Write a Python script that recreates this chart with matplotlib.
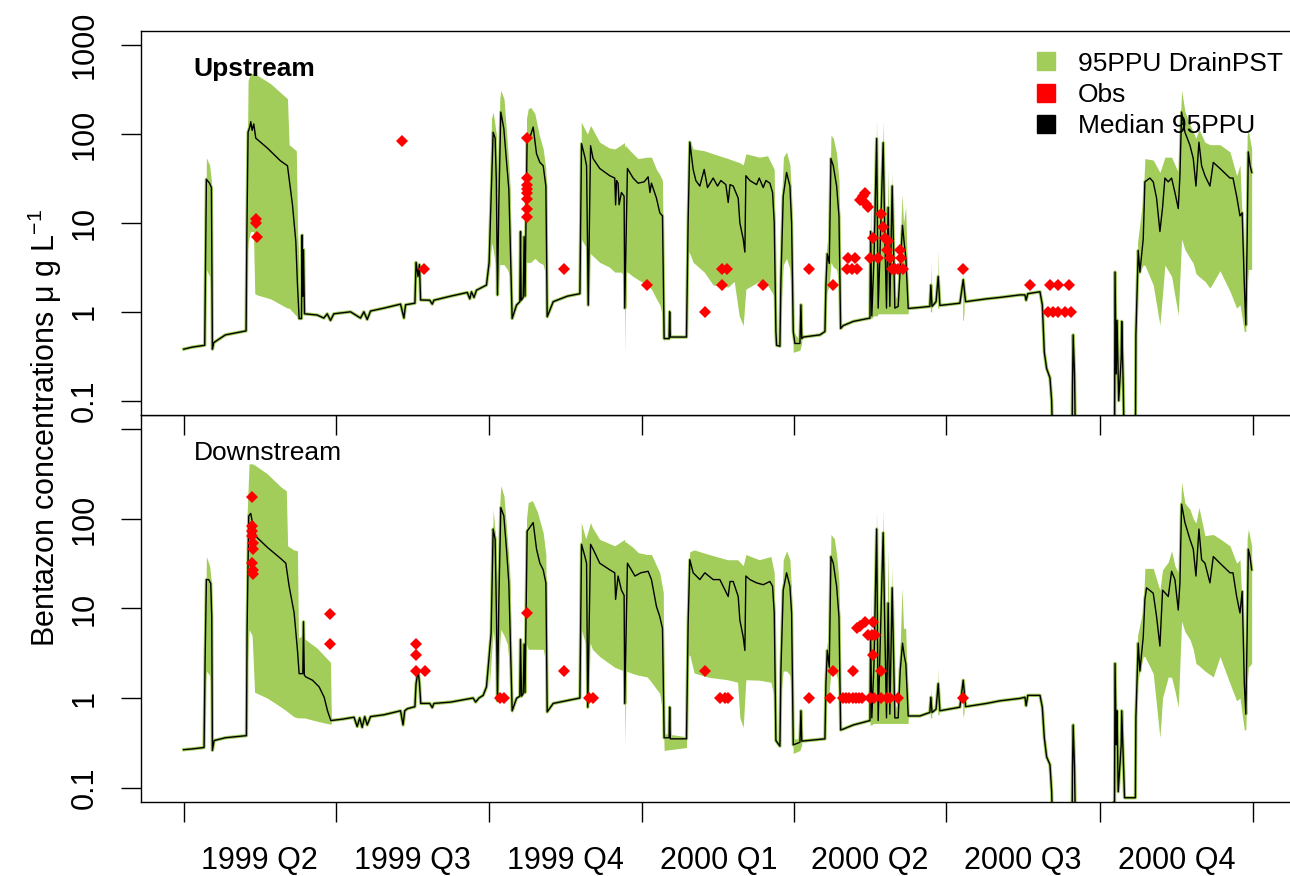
import numpy as np
import matplotlib
matplotlib.use('Agg')
import matplotlib.pyplot as plt
from matplotlib.lines import Line2D
from matplotlib.ticker import NullLocator, FixedLocator

plt.rcParams['font.family'] = ['Liberation Sans', 'DejaVu Sans']
plt.rcParams['mathtext.fontset'] = 'custom'
plt.rcParams['mathtext.rm'] = 'Liberation Sans'
plt.rcParams['mathtext.it'] = 'Liberation Sans:italic'

nan = float('nan')

# days since 1999-04-01
quarter_edges = [0, 91, 183, 275, 366, 457, 549, 641]
quarter_labels = ['1999 Q2', '1999 Q3', '1999 Q4', '2000 Q1', '2000 Q2', '2000 Q3', '2000 Q4']

# ---- Upstream ----
up_median = [
    (0, 0.38), (5, 0.40), (12.6, 0.42), (13.0, 2.5), (13.6, 31), (15.5, 28), (16.6, 25), (17.2, 0.38), (18, 0.45),
    (25, 0.55), (37.4, 0.61), (37.9, 8.6), (38.6, 105), (39.6, 120), (40.2, 138), (41, 110), (42, 130), (43.2, 90),
    (50, 70), (58, 50), (62.2, 44), (65.2, 16), (67.2, 6.2), (68.2, 2.0), (69.2, 0.84), (70.6, 0.84), (71.0, 7.3),
    (71.4, 1.5), (71.8, 5), (72.4, 0.95), (80, 0.92), (84, 0.85), (86, 0.95), (88, 0.80), (90, 0.95), (100, 1.0),
    (106, 0.85), (108, 1.0), (110, 0.82), (112, 1.02), (120, 1.1), (130, 1.22), (132, 0.85), (133, 1.2),
    (138.6, 1.25), (139.3, 3.6), (140.5, 2.5), (141.3, 3.4), (142, 1.36), (147.5, 1.35), (149, 1.22), (150, 1.35),
    (160, 1.5), (170, 1.65), (171.5, 1.4), (172.5, 1.68), (174, 1.45), (175.5, 1.75), (181.5, 2.0),
    (183.1, 3.6), (184.3, 20), (185.5, 105), (186.7, 90), (187.4, 30), (188.1, 1.55), (188.9, 16), (190.1, 177),
    (191.9, 115), (193.5, 50), (194.9, 24), (196.9, 0.84), (199.5, 1.19), (201.5, 1.3), (201.9, 8), (202.3, 1.35),
    (203.5, 1.45), (204.1, 7), (204.6, 1.5), (205.9, 97), (207, 85), (209.5, 120), (211.5, 60), (213.5, 48),
    (215.5, 44), (217.1, 26), (217.9, 0.88), (221.5, 1.3), (230, 1.5), (237.5, 1.6),
    (238.5, 78), (240.5, 55), (241.5, 44), (242.5, 1.19), (243.9, 74), (245.4, 53), (249.4, 41), (255.4, 34),
    (258.4, 32), (258.9, 16), (259.5, 30), (260.4, 28), (261, 16), (262.4, 22), (264, 20), (264.4, 1.1), (266, 41),
    (269.4, 32), (272.4, 28), (276, 29), (278.4, 33), (279.5, 22), (280.4, 28), (283.4, 19), (285.4, 13), (287, 12),
    (288, 0.5), (291, 0.5), (291.3, 1.0), (291.7, 0.52), (301.4, 0.52),
    (302.4, 10.7), (303.4, 81), (305.4, 40), (307, 30), (309.4, 26), (312, 40), (314, 25), (317.4, 32), (320, 26),
    (322, 30), (325, 27), (326.4, 17), (327.5, 27), (329.4, 26), (332.4, 19), (333.4, 10), (335.4, 6.6),
    (336.4, 4.7), (337, 34), (339.4, 30), (343.4, 27), (345, 32), (347.4, 25), (349, 30), (351.4, 28), (353, 22),
    (354, 10), (355, 0.6), (355.4, 0.42), (357.4, 0.41),
    (358, 2.2), (359.4, 20), (361.4, 37), (363.4, 26), (364.4, 10), (365.4, 0.6), (366.4, 0.44), (369.4, 0.44),
    (370, 1.2), (370.5, 0.5), (371.4, 0.52), (381.4, 0.55), (384.4, 0.6),
    (385, 2.0), (385.8, 4.5), (387, 3.5), (388, 53), (389.4, 44), (391.4, 26), (392.8, 12), (393.8, 0.65),
    (395.4, 0.7), (401.4, 0.78), (411.4, 0.85),
    (411.8, 8), (412.5, 0.9), (413.8, 4), (415.4, 89), (416.3, 1.1), (417.3, 4), (419.3, 80), (420.3, 7),
    (421.3, 1.1), (422.3, 15), (423.3, 1.15), (424.7, 26), (426.3, 1.1), (428.3, 1.15), (429.5, 3), (430.9, 9.4),
    (431.9, 6), (432.9, 4), (434.3, 1.09),
    (441.3, 1.12), (447.3, 1.15), (447.9, 2.0), (448.6, 1.15), (451, 1.3), (452.3, 2.5), (453.3, 1.18),
    (465.3, 1.25), (467.3, 2.3), (468.7, 1.3), (481.3, 1.4), (489, 1.45), (501.3, 1.55), (504.3, 1.55),
    (505, 1.35), (506, 1.6), (513.3, 1.68), (514.7, 1.2), (515.9, 0.35), (517.3, 0.23), (519.3, 0.18),
    (520.3, 0.1), (521, 0.03),
    (532.5, 0.03), (532.8, 0.15), (533.2, 0.55), (534, 0.2), (534.6, 0.03), (558, 0.03), (558.3, 2.8), (559, 0.2),
    (559.5, 0.8), (560.5, 0.1), (562, 0.3), (562.3, 0.78), (563.2, 0.15), (563.8, 0.03), (570.5, 0.03),
    (570.8, 0.55), (572.2, 4.9), (573.2, 2.8), (575.2, 6.6),
    (576.2, 29), (579.2, 32), (581.2, 29), (583.2, 19), (585.2, 8), (586.8, 15), (588.2, 32), (590.2, 29),
    (592.2, 32), (594.2, 22), (596.2, 14.5), (597.2, 34), (598.2, 177), (600.2, 105), (603.2, 75), (605.2, 53),
    (606.8, 26), (608.6, 81), (610.2, 44), (612.2, 34), (615.2, 26), (617.2, 48), (621.2, 41), (627.2, 32),
    (629, 32), (631.2, 20), (633.2, 12), (634.5, 13), (635.8, 2.0), (636.7, 0.71), (637.5, 6.6), (638.2, 63),
    (639.2, 45), (640.2, 37)]

# (day, lower 95PPU, upper 95PPU); nan rows split the band into pieces
up_band = [
    (13.0, 1.5, 3.6), (13.6, 3, 54), (15.5, 2.5, 45), (16.6, 1.7, 30), (17.2, 0.36, 0.5), (nan, nan, nan),
    (37.9, 4, 20), (38.6, 6, 400), (40, 8, 480), (41.8, 8, 480), (42.6, 1.6, 470), (44, 1.55, 460), (52, 1.4, 370),
    (62.2, 1.1, 250), (63.2, 1.1, 76), (67.5, 0.9, 65), (68.3, 0.88, 8), (69.2, 0.82, 3), (nan, nan, nan),
    (183.1, 2.5, 4), (184.5, 6, 150), (185.5, 5, 177), (187.4, 3, 100), (188.3, 1.5, 20), (189.5, 3.4, 250),
    (190.1, 3.4, 310), (192, 3.4, 250), (194, 3, 80), (195.5, 2.5, 30), (196.9, 0.8, 1), (nan, nan, nan),
    (205.5, 3.6, 150), (206.5, 3.6, 192), (208, 3.6, 200), (210.5, 4, 170), (213, 3.6, 100), (215.5, 3.4, 68),
    (217.1, 2.5, 40), (217.9, 0.85, 1), (nan, nan, nan),
    (238.3, 6.6, 136), (242, 5, 100), (243.9, 4.5, 125), (249.4, 3.6, 81), (255, 3.2, 70), (258.4, 2.8, 68),
    (262, 2.8, 75), (264.2, 2.6, 80), (264.6, 0.35, 70), (265, 2.8, 75), (266, 2.8, 70), (269.4, 2.5, 60),
    (272.4, 2.3, 53), (277.8, 2.0, 55), (280.4, 1.8, 55), (283.4, 1.4, 40), (285.4, 1.2, 35), (287, 0.9, 30),
    (288, 0.45, 1), (nan, nan, nan),
    (302.2, 5, 40), (303.4, 4.5, 85), (305.4, 3.6, 68), (312, 2.8, 65), (317.4, 2.0, 60), (326.4, 1.9, 53),
    (330, 2.2, 50), (333, 0.9, 48), (335.4, 0.7, 45), (337, 1.8, 60), (345, 2.2, 55), (350, 2.0, 57),
    (354, 1.5, 40), (355, 0.38, 0.6), (nan, nan, nan),
    (357.8, 1.0, 10), (359.5, 3.4, 55), (361.4, 4, 63), (363.4, 3, 45), (364.4, 1.5, 20), (365.4, 0.35, 0.6),
    (369.4, 0.37, 0.47), (370.5, 0.45, 0.55), (nan, nan, nan),
    (384.8, 1.5, 4), (387, 2, 10), (388, 3.6, 97), (389.4, 3.2, 90), (391.4, 3, 60), (392.8, 2, 30),
    (393.8, 0.6, 0.7), (nan, nan, nan),
    (411.4, 0.85, 0.9), (411.6, 0.85, 8), (411.8, 0.85, 30), (412.1, 0.85, 2), (412.6, 0.85, 1),
    (413.6, 0.9, 1.2), (413.9, 0.9, 6), (414.5, 0.9, 2), (415.0, 0.9, 20), (415.3, 0.9, 148), (415.7, 0.9, 60),
    (416.3, 0.95, 2), (417.2, 0.95, 6), (418.0, 0.95, 10), (419.2, 0.95, 140), (419.7, 0.95, 40),
    (420.4, 0.95, 8), (421.2, 0.95, 1.5), (422.2, 0.95, 40), (422.7, 0.95, 10), (423.3, 0.95, 2),
    (424.4, 0.95, 37), (425.0, 0.95, 10), (426.3, 0.95, 1.5), (428.3, 0.95, 1.4), (430.6, 0.95, 21),
    (431.5, 0.95, 10), (432.8, 0.95, 15), (433.5, 0.95, 5), (434.3, 0.95, 1.2), (nan, nan, nan),
    (447.6, 1.0, 1.2), (447.9, 1.0, 3.5), (448.4, 1.0, 1.2), (nan, nan, nan),
    (452.0, 1.1, 1.3), (452.3, 1.1, 5), (452.8, 1.1, 1.3), (nan, nan, nan),
    (467.0, 0.8, 1.3), (467.3, 0.8, 3.2), (467.8, 1.0, 1.3), (nan, nan, nan),
    (571.8, 2.5, 6), (575.2, 3.35, 20), (576.2, 3.35, 53), (581.2, 2.0, 51), (585.2, 0.71, 37), (588.2, 3.35, 55),
    (590.2, 2.9, 55), (592.2, 2.5, 55), (596.2, 0.92, 37), (598.2, 6.6, 310), (600.2, 5, 180), (602.6, 4.2, 136),
    (605.2, 3.5, 105), (606.8, 2.7, 90), (608.6, 2.5, 113), (612.2, 2.2, 81), (615.2, 1.85, 76), (621.2, 2.9, 76),
    (627.2, 1.7, 63), (631.2, 1.1, 34), (633.2, 1.2, 45), (635.8, 0.6, 3), (636.7, 0.6, 5), (637.5, 2, 97),
    (638.2, 3, 110), (640.2, 3.0, 68)]

up_obs = [
    (43.6, 10.0), (43.6, 11.0), (44.2, 7.0), (130.9, 83), (144.3, 3.0),
    (205.9, 90), (205.9, 32), (205.9, 27), (205.9, 24), (205.9, 22), (205.9, 18.6), (205.9, 14.5), (205.9, 11.7),
    (228, 3.0), (277.8, 2.0), (312.4, 1.0), (322.6, 2.0), (322.6, 3.0), (325.8, 3.0), (347, 2.0), (375, 3.0),
    (389.4, 2.0), (397.4, 3.0), (400.4, 3.0), (403.4, 3.0), (398.4, 4.0), (402.4, 4.0),
    (405.4, 18), (407.4, 20), (408.4, 22), (409.2, 16.5), (410.4, 15),
    (411.4, 4.0), (413.4, 6.8), (416.3, 4.0), (418.3, 12.7), (419.3, 8.9), (420.3, 6.8), (421.3, 4.9),
    (422.3, 6.2), (423.3, 4.0), (424.3, 3.0), (426.3, 3.0), (428.3, 3.0), (429.3, 4.9), (429.8, 4.0),
    (431.3, 3.0), (467.3, 3.0),
    (507.3, 2.0), (519.3, 2.0), (524.3, 2.0), (530.9, 2.0),
    (518.3, 1.0), (521.3, 1.0), (524.3, 1.0), (528.3, 1.0), (531.7, 1.0)]

# ---- Downstream ----
dn_median = [
    (0, 0.265), (5, 0.27), (12.2, 0.28), (12.8, 2.4), (13.6, 21), (15, 21), (16.2, 19), (16.8, 8), (17.2, 0.26),
    (18.2, 0.335), (25, 0.36), (37.6, 0.38), (38.0, 5.8), (39.0, 108), (40.2, 115), (41.0, 95), (42, 90),
    (43.2, 64), (50.2, 48), (58.2, 36), (61.2, 32), (63.2, 17.7), (66.2, 8.9), (68.2, 3.4), (69.2, 1.87),
    (71.4, 1.87), (71.8, 7.1), (72.3, 1.8), (73.2, 1.72), (77.2, 1.58), (81.2, 1.33), (84.2, 1.02), (86.2, 0.72),
    (88.2, 0.56), (95, 0.58), (102.1, 0.61), (104, 0.48), (105.5, 0.6), (107, 0.47), (108.5, 0.62), (110, 0.5),
    (112, 0.62), (120, 0.65), (130, 0.72), (131.5, 0.5), (132.5, 0.72), (134.1, 0.76), (138.6, 0.8),
    (139.3, 1.45), (140.5, 2.0), (141.3, 1.5), (142.1, 0.87), (147.5, 0.87), (149, 0.78), (150, 0.87),
    (160, 0.9), (173.5, 1.0), (175, 0.9), (177, 1.0), (179.5, 1.07), (181.5, 1.33),
    (183.1, 2.9), (184.3, 5.3), (185.5, 77), (186.7, 59), (187.5, 8), (188.1, 0.93), (188.9, 11.5), (190.1, 134),
    (191.9, 108), (193.5, 46), (194.9, 19.3), (196.9, 0.72), (199.5, 0.99), (201.5, 1.05), (201.9, 4.5),
    (202.5, 1.05), (203.5, 1.12), (204.1, 4.0), (204.6, 1.15), (205.9, 73), (209.5, 91), (211.5, 46),
    (213.5, 32), (215.5, 27), (217.1, 19.3), (217.9, 0.70), (221.5, 0.87), (237.5, 1.0),
    (238.5, 52), (240.5, 38), (241.5, 32), (242.2, 0.79), (243.9, 52), (245.4, 46), (249.4, 32), (255.4, 27),
    (258.4, 25), (258.9, 12.6), (260.4, 23), (262.4, 16), (264.0, 14), (264.4, 0.87), (266, 32), (270.5, 23),
    (274, 25), (278.4, 26), (280.4, 21), (283.4, 10.5), (285.4, 8.1), (287, 6), (288, 0.36), (291, 0.36),
    (291.3, 0.79), (291.7, 0.35), (301.4, 0.35),
    (302.4, 6.9), (303.4, 35), (305.4, 25), (309.4, 21), (312.4, 25), (317.4, 21), (321.4, 21), (326.4, 13.6),
    (327.5, 20), (329.4, 20), (332.4, 13.6), (333.4, 7.4), (335.4, 4.8), (336.4, 3.4), (337, 23), (339.4, 21),
    (343.4, 19.3), (347.4, 18.4), (351.4, 20), (353, 17.7), (354, 8.9), (355, 0.335), (357.4, 0.29),
    (358, 2.0), (359.4, 16), (361.4, 25), (363.4, 17.7), (364.4, 8.9), (365.4, 0.30), (369.4, 0.32), (370, 0.72),
    (370.5, 0.33), (384.4, 0.35),
    (385, 1.45), (385.8, 3.4), (387, 2.2), (388, 38), (389.4, 32), (391.4, 17.7), (392.8, 8.1), (393.8, 0.44),
    (395.4, 0.45), (401.4, 0.5), (411.4, 0.56),
    (411.8, 4.8), (412.5, 0.6), (413.8, 2.4), (415.4, 77), (416.3, 0.56), (417.3, 2.9), (419.3, 70), (420.3, 5.8),
    (421.3, 0.6), (422.3, 11.5), (423.3, 0.66), (424.7, 17), (426.3, 0.6), (428.3, 0.6), (429.5, 2), (430.9, 4.1),
    (431.9, 3.0), (432.9, 2.4), (434.3, 0.63), (441.3, 0.63), (447.3, 0.69), (447.9, 1.02), (448.6, 0.69),
    (451, 0.75), (452.3, 1.45), (453.3, 0.72), (465.3, 0.79), (467.3, 1.58), (468.7, 0.8), (481.3, 0.87),
    (489.3, 0.93), (501.3, 0.99), (504.3, 1.02), (505, 0.82), (506, 1.07), (513.3, 1.07), (514.7, 0.79),
    (515.9, 0.36), (517.3, 0.22), (519.3, 0.18), (520.3, 0.09), (521, 0.03),
    (532.5, 0.03), (532.8, 0.167), (533.2, 0.5), (534, 0.17), (534.6, 0.03), (553, 0.06), (556, 0.065),
    (558, 0.07), (558.3, 2.43), (559, 0.3), (559.5, 0.72), (560.2, 0.09), (562, 0.3), (562.3, 0.72),
    (563.2, 0.23), (564, 0.077), (570.5, 0.077), (570.8, 0.61), (572.2, 4.1), (573.2, 2.0), (575.2, 4.8),
    (576.2, 12.6), (577.2, 17), (581.2, 14.8), (583.2, 8.1), (585.2, 3.8), (586.8, 16), (590.2, 13.6),
    (592.2, 26), (594.2, 21), (596.2, 9.6), (597.2, 19.3), (598.2, 146), (600.2, 91), (603.2, 59), (605.2, 46),
    (606.8, 23), (608.6, 77), (610.2, 35), (612.2, 32), (615.2, 19.3), (617.2, 38), (621.2, 32), (627.2, 25),
    (629, 25), (631.2, 13.6), (633.2, 8.9), (634.5, 15.5), (635.8, 1.45), (636.7, 0.66), (637.5, 5.3),
    (638.2, 46), (639.2, 38), (640.2, 27)]

dn_band = [
    (12.8, 1.3, 2.5), (13.6, 2, 38), (15.5, 1.8, 30), (16.6, 1.3, 20), (17.2, 0.25, 0.3), (nan, nan, nan),
    (37.9, 2, 100), (39.2, 5.8, 412), (41, 5, 412), (42.5, 1.16, 400), (50, 1.0, 320), (58, 0.8, 230),
    (61.5, 0.72, 206), (62.3, 0.7, 50), (66, 0.62, 45), (68.2, 0.6, 44), (68.8, 0.6, 4.7), (71.5, 0.6, 5),
    (71.8, 0.6, 7.5), (72.3, 0.6, 4.6), (80, 0.55, 3.6), (88, 0.51, 2.5), (88.5, 0.52, 0.6), (nan, nan, nan),
    (183.1, 1.3, 3), (184.5, 3, 10), (185.5, 5.8, 128), (187, 3, 60), (188.2, 0.9, 10), (189.5, 4, 150),
    (190.1, 5.8, 235), (192, 5, 180), (194, 4, 60), (195.5, 2, 25), (196.9, 0.65, 0.8), (nan, nan, nan),
    (205.5, 4, 100), (206.5, 3.5, 152), (209, 3.5, 160), (212, 3.5, 120), (215.5, 3.5, 70), (217.1, 2.5, 40),
    (217.9, 0.65, 0.8), (nan, nan, nan),
    (238.3, 5.8, 91), (241, 4, 60), (243.9, 4, 91), (245, 3.5, 80), (249.4, 2.9, 59), (258.4, 2.2, 50),
    (264.2, 2.0, 59), (264.6, 0.3, 55), (265.2, 2.0, 55), (269.4, 1.87, 48), (272.4, 1.8, 42), (277.8, 1.72, 40),
    (280.4, 1.5, 40), (285.4, 1.12, 25), (287.5, 0.61, 15), (288, 0.26, 0.4), (301.4, 0.28, 0.37),
    (nan, nan, nan),
    (302.2, 3, 20), (303.4, 3, 43), (306, 1.9, 45), (315, 1.7, 40), (326, 1.6, 35), (332, 1.5, 35),
    (333.4, 0.6, 33), (335.4, 0.47, 30), (337, 1.6, 40), (345, 1.58, 35), (352, 1.5, 38), (354, 1.0, 25),
    (355, 0.3, 0.4), (nan, nan, nan),
    (357.8, 1.0, 4), (359.4, 2.0, 35), (361.4, 2.0, 44), (363.4, 1.8, 35), (364.4, 1.0, 15), (365.4, 0.24, 0.35),
    (369.4, 0.26, 0.35), (370.5, 0.3, 0.4), (nan, nan, nan),
    (384.8, 1.0, 3), (387, 1.2, 6), (388, 2.0, 67), (390, 2.0, 60), (391.4, 1.8, 40), (392.8, 1.3, 20),
    (393.8, 0.4, 0.5), (nan, nan, nan),
    (411.4, 0.5, 0.6), (411.8, 0.5, 15), (412.2, 0.5, 1), (413.6, 0.52, 1), (413.9, 0.52, 4), (414.5, 0.52, 1.5),
    (415.0, 0.52, 20), (415.3, 0.52, 124), (415.7, 0.52, 40), (416.3, 0.52, 1), (417.3, 0.52, 4),
    (418.2, 0.52, 8), (419.2, 0.52, 124), (419.7, 0.52, 30), (420.4, 0.52, 6), (421.2, 0.52, 1),
    (422.2, 0.52, 46), (422.7, 0.52, 10), (423.3, 0.52, 1.2), (424.4, 0.52, 30), (425.0, 0.52, 6),
    (426.3, 0.52, 0.8), (428.3, 0.52, 0.8), (430.6, 0.52, 17), (431.5, 0.52, 6), (432.8, 0.52, 6),
    (433.5, 0.52, 2), (434.3, 0.52, 0.7), (nan, nan, nan),
    (447.6, 0.6, 0.75), (447.9, 0.6, 1.3), (448.4, 0.6, 0.75), (nan, nan, nan),
    (452.0, 0.65, 0.8), (452.3, 0.65, 2.2), (452.8, 0.65, 0.8), (nan, nan, nan),
    (467.0, 0.7, 0.85), (467.3, 0.6, 1.4), (467.8, 0.7, 0.85), (nan, nan, nan),
    (571.8, 1.5, 5), (575.2, 2.9, 10), (576.2, 2.9, 28), (581.2, 1.87, 28), (585.2, 0.36, 16), (586.8, 1.0, 27),
    (590.2, 1.72, 33), (592.2, 1.7, 44), (594.2, 1.2, 30), (596.2, 0.79, 25), (598.2, 7.2, 256),
    (600.2, 5.5, 150), (603.2, 4.5, 128), (605.2, 3.5, 100), (606.8, 2.43, 90), (608.6, 2.3, 134),
    (612.2, 2.0, 65), (617.2, 1.72, 67), (621.2, 2.9, 60), (627.2, 1.45, 50), (631.2, 0.93, 32),
    (633.2, 1.0, 35), (635.8, 0.44, 3), (636.7, 0.44, 3), (637.5, 1.5, 60), (638.2, 2.2, 77), (640.2, 2.43, 50)]

dn_obs = [
    (40.8, 177), (40.8, 83), (41.0, 73), (41.1, 65), (41.3, 54), (41.5, 46), (41.0, 32), (41.3, 27), (41.5, 24),
    (87.7, 8.6), (87.7, 4.0), (139.3, 4.0), (139.3, 3.0), (139.3, 2.0), (144.5, 2.0), (189.9, 1.0), (191.9, 1.0),
    (205.9, 9.0), (228, 2.0), (243, 1.0), (245.4, 1.0), (312.4, 2.0), (321.4, 1.0), (324.4, 1.0), (326.4, 1.0),
    (375, 1.0), (387.4, 1.0), (389, 2.0), (395.4, 1.0), (397, 1.0), (399, 1.0), (401, 1.0), (403, 1.0),
    (405, 1.0), (406.4, 1.0), (401.4, 2.0), (403.6, 6.0), (405.4, 6.3), (408.4, 7.0), (413.4, 7.0),
    (410.4, 5.0), (412.4, 5.0), (414.4, 5.0), (413.4, 3.0), (411.4, 1.0), (413.8, 1.0), (418.3, 1.0),
    (421.3, 1.0), (423.3, 1.0), (428.3, 1.0), (418.3, 2.0), (467.3, 1.0)]

GREEN = '#A2CD5A'
W, H = 1290, 876


def draw_panel(ax, med, band, obs):
    md = np.array(med, dtype=float)
    ax.plot(md[:, 0], md[:, 1], color=GREEN, lw=2.4, zorder=2)
    bd = np.array(band, dtype=float)
    breaks = np.where(np.isnan(bd[:, 0]))[0]
    for seg in np.split(bd, breaks):
        seg = seg[~np.isnan(seg[:, 0])]
        if len(seg):
            ax.fill_between(seg[:, 0], seg[:, 1], seg[:, 2], color=GREEN, lw=0, zorder=2)
    ax.plot(md[:, 0], md[:, 1], color='black', lw=1.0, zorder=3)
    ob = np.array(obs, dtype=float)
    ax.plot(ob[:, 0], ob[:, 1], 'D', color='red', ms=6.5, mew=0, zorder=4)

    ax.set_yscale('log')
    ax.set_ylim(0.069, 1445)
    ax.set_xlim(-25.6, 666.6)
    ax.yaxis.set_major_locator(FixedLocator([0.1, 1, 10, 100, 1000]))
    ax.yaxis.set_minor_locator(NullLocator())
    ax.xaxis.set_major_locator(FixedLocator(quarter_edges))
    ax.tick_params(axis='both', which='major', direction='out', length=14.5, width=1, labelsize=22)
    ax.tick_params(axis='y', pad=15)
    for s in ax.spines.values():
        s.set_linewidth(1)


fig = plt.figure(figsize=(W / 100, H / 100), dpi=100)
left = 141 / W
width = (1295.7 - 141) / W
ax_dn = fig.add_axes([left, 1 - 802 / H, width, 387 / H])
ax_up = fig.add_axes([left, 1 - 415 / H, width, 384 / H])

draw_panel(ax_up, up_median, up_band, up_obs)
draw_panel(ax_dn, dn_median, dn_band, dn_obs)

ax_up.set_yticklabels(['0.1', '1', '10', '100', '1000'], rotation=90, va='center')
ax_dn.set_yticklabels(['0.1', '1', '10', '100', ''], rotation=90, va='center')
ax_up.tick_params(axis='x', labelbottom=False)

# quarter names sit between the tick marks
mids = [(quarter_edges[i] + quarter_edges[i + 1]) / 2 for i in range(len(quarter_labels))]
ax_dn.xaxis.set_minor_locator(FixedLocator(mids))
ax_dn.set_xticklabels([], minor=False)
ax_dn.set_xticklabels(quarter_labels, minor=True)
ax_dn.tick_params(axis='x', which='minor', length=0, pad=32, labelsize=22)

ax_up.text(0.045, 0.902, 'Upstream', transform=ax_up.transAxes, fontsize=19,
           fontweight='bold', va='center', ha='left')
ax_dn.text(0.046, 0.902, 'Downstream', transform=ax_dn.transAxes, fontsize=19,
           va='center', ha='left')

handles = [Line2D([], [], marker='s', ls='', color=c, ms=13) for c in (GREEN, 'red', 'black')]
ax_up.legend(handles, ['95PPU DrainPST', 'Obs', 'Median 95PPU'], loc='upper left',
             bbox_to_anchor=(0.772, 0.946), frameon=False, fontsize=19, handlelength=1.0,
             handletextpad=0.71, labelspacing=0.27, borderaxespad=0, borderpad=0)

fig.text(45 / W, 1 - 428 / H, r'Bentazon concentrations μ g L$^{-1}$', rotation=90,
         va='center', ha='center', fontsize=22)

fig.savefig('out.png', dpi=100)
